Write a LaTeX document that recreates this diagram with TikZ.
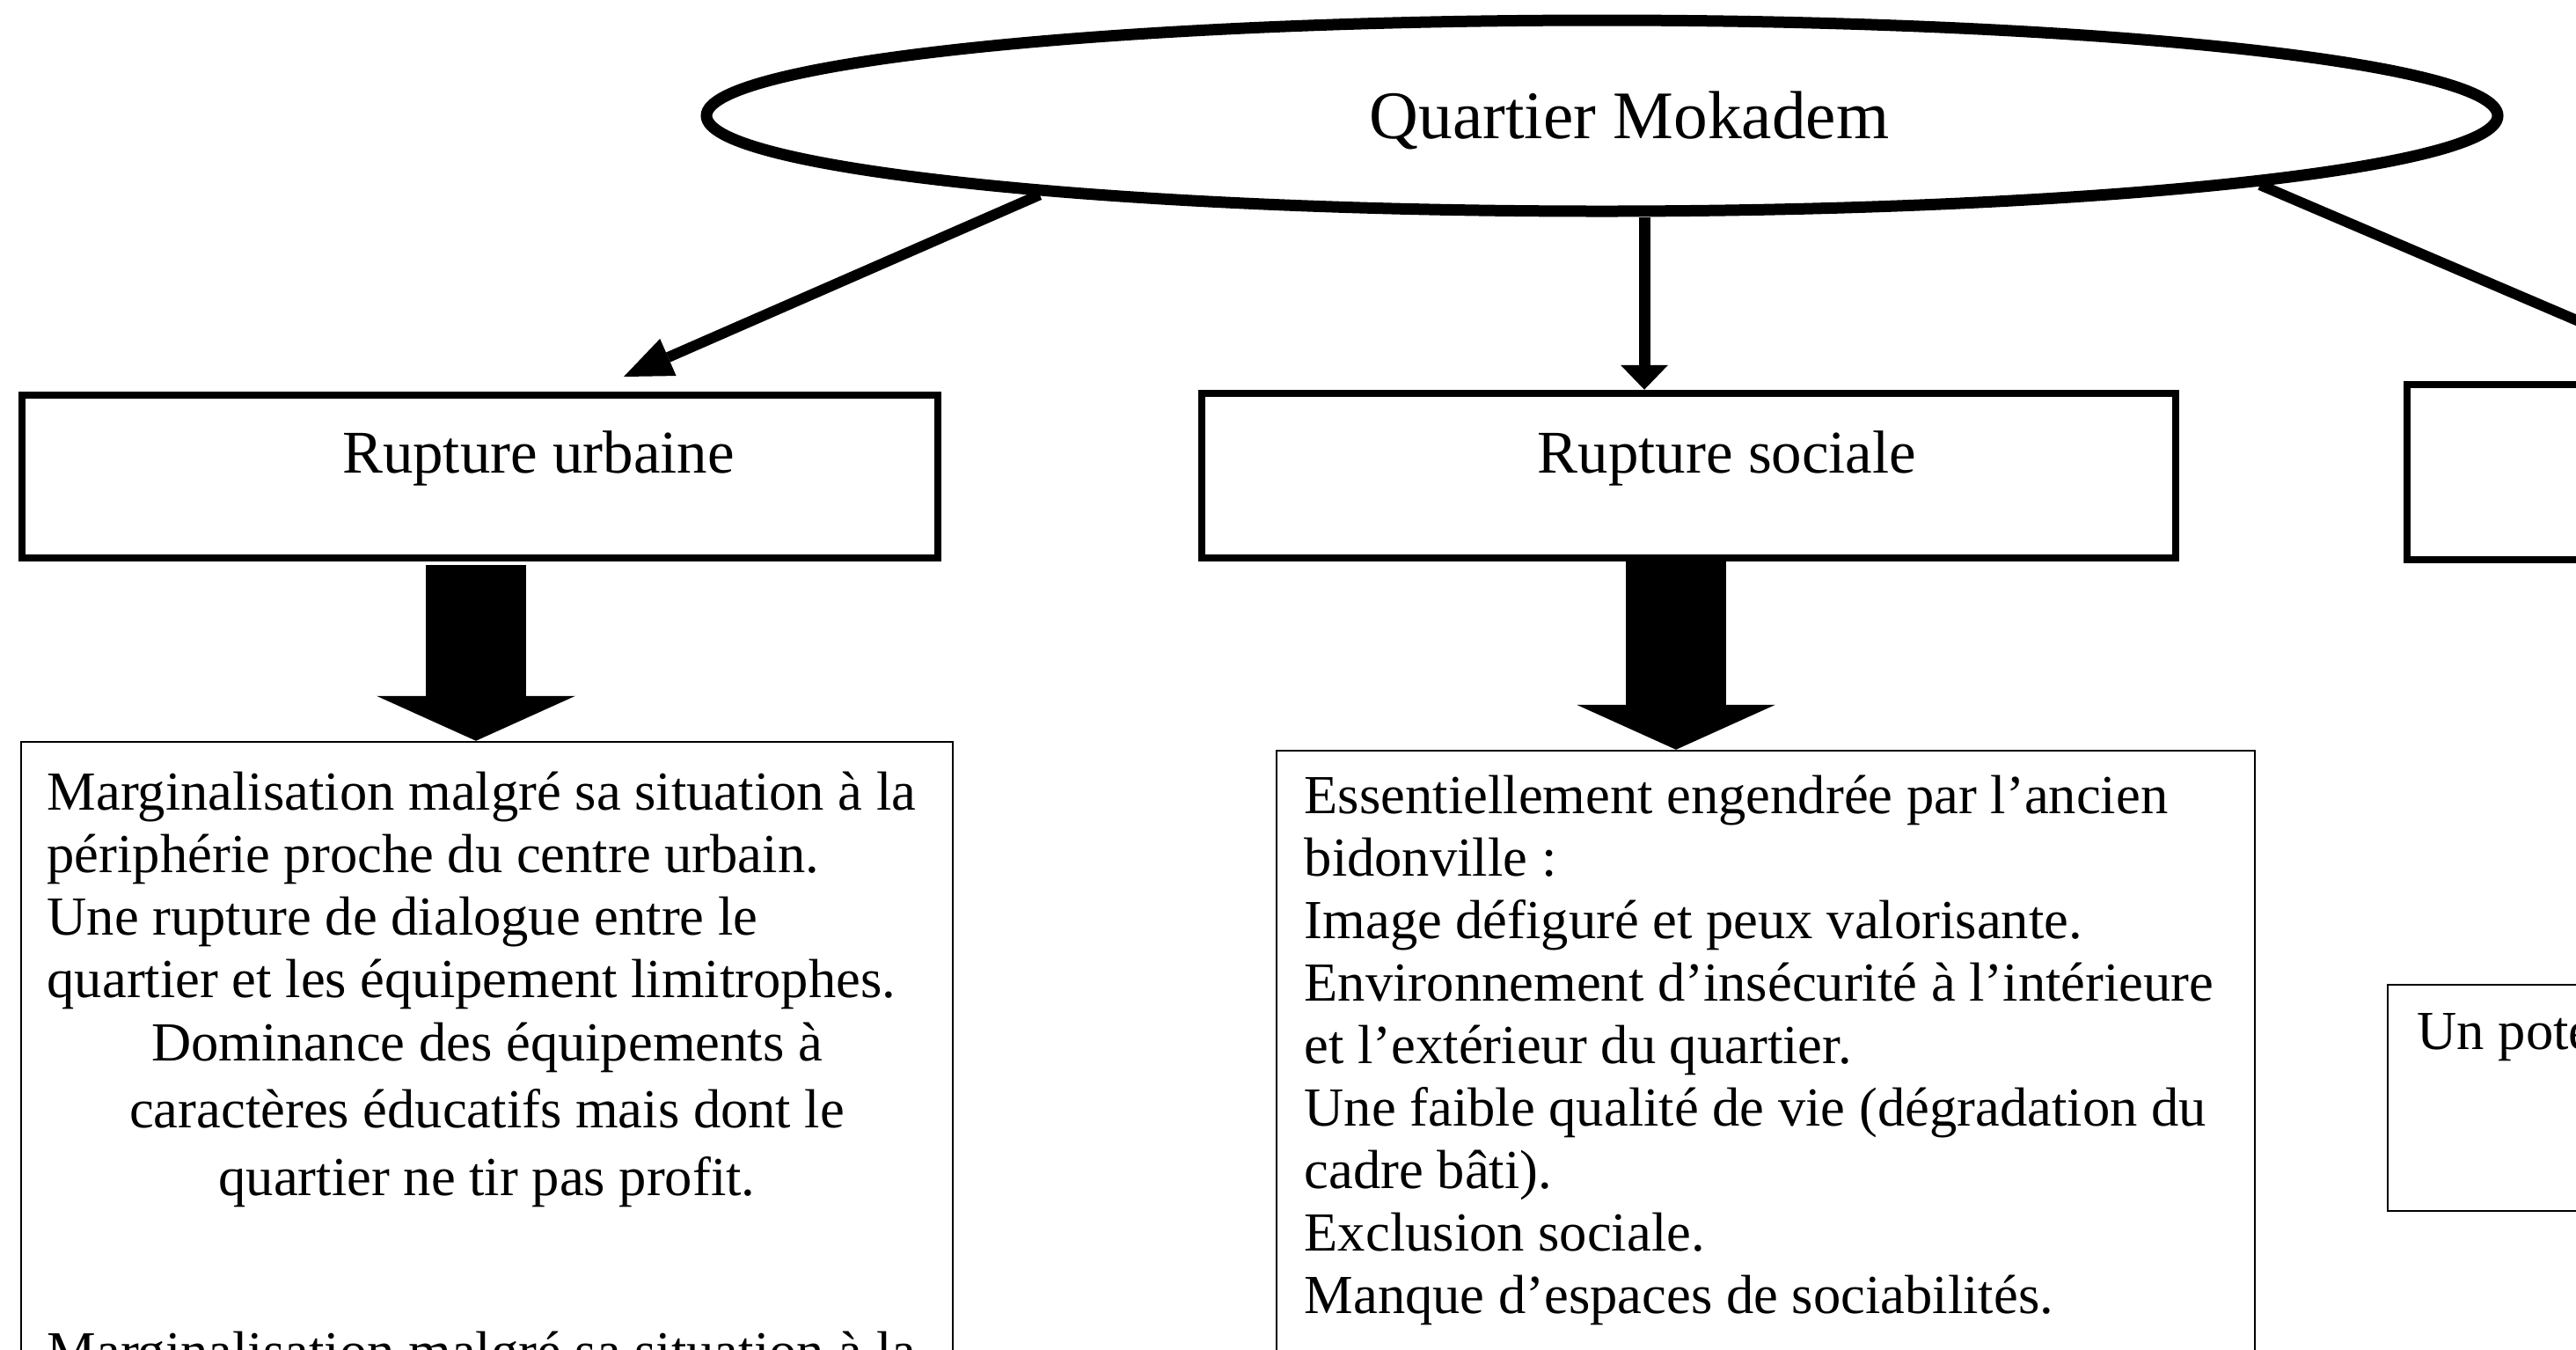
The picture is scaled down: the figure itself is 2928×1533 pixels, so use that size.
\documentclass[tikz,border=0pt]{standalone}
\usepackage{fontspec}
\setmainfont{Liberation Serif}
\usetikzlibrary{shapes.geometric,arrows.meta,calc}
\begin{document}
\begin{tikzpicture}[x=0.1mm,y=-0.1mm,
  hdr/.style={draw, rectangle, line width=0.85mm, inner sep=0pt},
  tbox/.style={draw, rectangle, line width=0.25mm, inner sep=0pt},
  hdrtext/.style={anchor=base, inner sep=0pt, font=\fontsize{19.6}{23}\selectfont},
  body/.style={anchor=base west, inner sep=0pt, font=\fontsize{17.8}{21}\selectfont},
  bodyc/.style={anchor=base, inner sep=0pt, font=\fontsize{17.8}{21}\selectfont},
  conn/.style={line width=1.2mm, -{Triangle[length=5.5mm,width=4.6mm,line width=0pt 0 0]}},
  connv/.style={line width=1.3mm, -{Triangle[length=2.8mm,width=5.4mm,line width=0pt 0 0]}},
  block/.style={line width=11.4mm, -{Triangle[length=5.1mm,width=22.6mm,line width=0pt 0 0]}}]
\useasboundingbox (0,0) rectangle (2928,1533);
\fill[white] (0,0) rectangle (2928,1533);
\clip (0,0) rectangle (2928,1533);

% top ellipse
\node[ellipse, draw, line width=1.3mm, minimum width=203.6mm, minimum height=21.7mm, inner sep=0pt] (qm) at (1821,131.5) {};
\node[anchor=base, inner sep=0pt, font=\fontsize{22}{26}\selectfont] (qmlabel) at (1852,157) {Quartier Mokadem};

% header boxes
\node[hdr, minimum width=104.1mm, minimum height=18.5mm] (hdrL) at (545.5,541.5) {};
\node[hdrtext] (hdrLt) at (612,537) {Rupture urbaine};
\node[hdr, minimum width=110.7mm, minimum height=18.7mm] (hdrM) at (1919.5,540.5) {};
\node[hdrtext] (hdrMt) at (1963,537) {Rupture sociale};
\node[hdr, minimum width=111mm, minimum height=19.9mm] (hdrR) at (3291,536.5) {};

% text boxes
\node[tbox, minimum width=105.9mm, minimum height=85.7mm] (txtL) at (553.5,1271.5) {};
\node[tbox, minimum width=111.2mm, minimum height=84.7mm] (txtM) at (2007,1276.5) {};
\node[tbox, minimum width=111.5mm, minimum height=25.7mm] (txtR) at (3271.5,1247.5) {};

% left text
\node[body] (l1) at (53,920) {Marginalisation malgré sa situation à la};
\node[body] (l2) at (53,991) {périphérie proche du centre urbain.};
\node[body] (l3) at (53,1062) {Une rupture de dialogue entre le};
\node[body] (l4) at (53,1133) {quartier et les équipement limitrophes.};
\node[bodyc] (l5) at (553.5,1205) {Dominance des équipements à};
\node[bodyc] (l6) at (553.5,1281) {caractères éducatifs mais dont le};
\node[bodyc] (l7) at (553.5,1358) {quartier ne tir pas profit.};
\node[body] (l8) at (53,1556) {Marginalisation malgré sa situation à la};

% middle text
\node[body] (m1) at (1482,924) {Essentiellement engendrée par l’ancien};
\node[body] (m2) at (1482,995) {bidonville :};
\node[body] (m3) at (1482,1066) {Image défiguré et peux valorisante.};
\node[body] (m4) at (1482,1137) {Environnement d’insécurité à l’intérieure};
\node[body] (m5) at (1482,1208) {et l’extérieur du quartier.};
\node[body] (m6) at (1482,1279) {Une faible qualité de vie (dégradation du};
\node[body] (m7) at (1482,1350) {cadre bâti).};
\node[body] (m8) at (1482,1421) {Exclusion sociale.};
\node[body] (m9) at (1482,1492) {Manque d’espaces de sociabilités.};

% right text
\node[body] (r1) at (2747,1192) {Un pote};

% connectors
\coordinate (cx) at (1869,0);
\coordinate (tipL) at (709,428);
\coordinate (tipR) at (3060,420);
\draw[conn] (qm.188) -- (tipL);
\draw[connv] (qm.south -| cx) -- (hdrM.north -| cx);
\draw[conn] (qm.-6.8) -- (tipR);

% block arrows
\coordinate (bL) at (541,0);
\coordinate (bM) at (1905,0);
\draw[block, shorten <=0.4mm] (hdrL.south -| bL) -- (txtL.north -| bL);
\draw[block] (hdrM.south -| bM) -- (txtM.north -| bM);
\end{tikzpicture}
\end{document}
